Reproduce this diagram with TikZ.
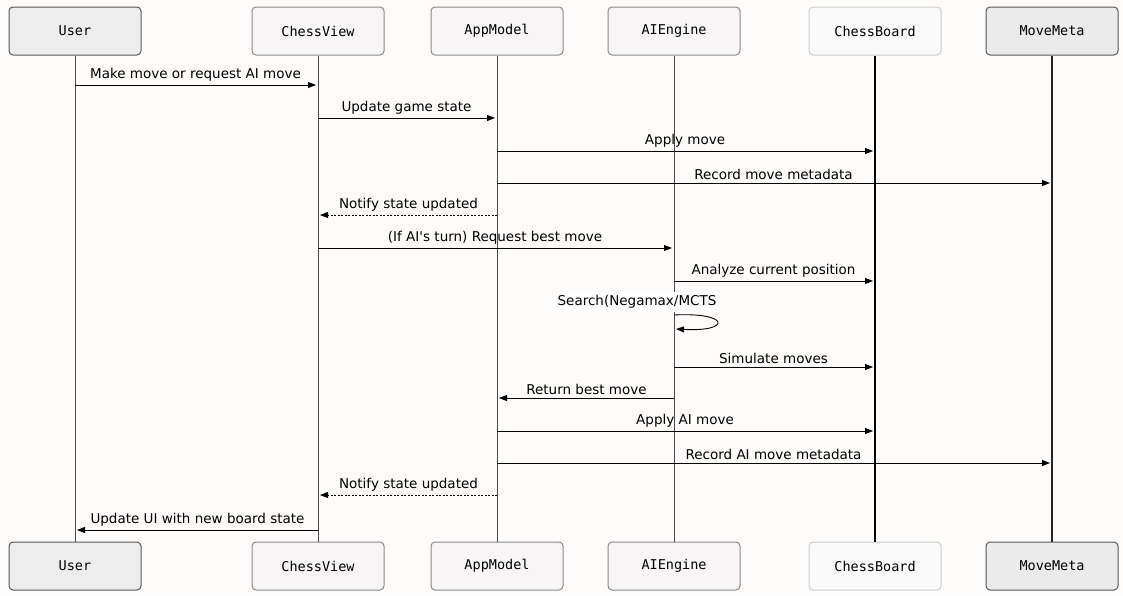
\documentclass[tikz,border=0pt]{standalone}
\usepackage{fontspec}
\setmainfont{DejaVu Sans}
\newfontfamily\actorfont{DejaVu Sans Mono}
\usepackage{xcolor}
\usepackage{tikz}
\usetikzlibrary{arrows.meta, positioning}
\definecolor{bg}{HTML}{FDFCFA}
\definecolor{boxfill}{HTML}{F7F5F5}
\definecolor{boxline}{HTML}{8A8A8A}
\tikzstyle{actor} = [rectangle, rounded corners=4pt, minimum width=132pt, minimum height=48pt, text centered, draw=boxline, fill=boxfill, line width=1pt, font=\actorfont\fontsize{13.5}{15}\selectfont]
\tikzstyle{lifeline} = [draw=black!70, line width=0.8pt]
\tikzstyle{msg} = [line width=0.9pt, -{Triangle[length=8pt,width=6pt]}]
\tikzstyle{reply} = [msg, dash pattern=on 2pt off 1.5pt]
\tikzstyle{lbl} = [above=2pt, midway, font=\fontsize{13.5}{15}\selectfont, inner sep=1pt]

\begin{document}
\begin{tikzpicture}[x=1pt, y=-1pt]
      \fill[bg] (0,0) rectangle (1123,595);
      \useasboundingbox (0,0) rectangle (1123,595);

      % Nodes
      \node (user) [actor, fill=black!7, draw=black!65] at (75,31) {User};
      \node (view) [actor] at (318,31) {ChessView};
      \node (model) [actor] at (497,31) {AppModel};
      \node (ai) [actor] at (674,31) {AIEngine};
      \node (board) [actor, fill=black!2, draw=black!20] at (875,31) {ChessBoard};
      \node (meta) [actor, fill=black!8, draw=black!65] at (1052,31) {MoveMeta};

      \node (userB) [actor, fill=black!7, draw=black!65] at (75,566) {User};
      \node (viewB) [actor] at (318,566) {ChessView};
      \node (modelB) [actor] at (497,566) {AppModel};
      \node (aiB) [actor] at (674,566) {AIEngine};
      \node (boardB) [actor, fill=black!2, draw=black!20] at (875,566) {ChessBoard};
      \node (metaB) [actor, fill=black!8, draw=black!65] at (1052,566) {MoveMeta};

      % Lifelines
      \draw [lifeline] (user) -- (userB);
      \draw [lifeline] (view) -- (viewB);
      \draw [lifeline] (model) -- (modelB);
      \draw [lifeline] (ai) -- (aiB);
      \draw [lifeline, draw=black, line width=1.3pt] (board) -- (boardB);
      \draw [lifeline, draw=black!85, line width=1.3pt] (meta) -- (metaB);

      % Rows
      \coordinate (r1) at (0,85);
      \coordinate (r2) at (0,118);
      \coordinate (r3) at (0,151);
      \coordinate (r4) at (0,183);
      \coordinate (r5) at (0,215);
      \coordinate (r6) at (0,248);
      \coordinate (r7) at (0,281);
      \coordinate (r8a) at (0,315);
      \coordinate (r8b) at (0,329);
      \coordinate (r9) at (0,367);
      \coordinate (r10) at (0,398);
      \coordinate (r11) at (0,431);
      \coordinate (r12) at (0,463);
      \coordinate (r13) at (0,495);
      \coordinate (r14) at (0,530);

      % Arrows
      \draw [msg] (user |- r1) -- node[lbl] {Make move or request AI move} ([xshift=-2pt]view |- r1);
      \draw [msg] (view |- r2) -- node[lbl] {Update game state} ([xshift=-2pt]model |- r2);
      \draw [msg] (model |- r3) -- node[lbl] {Apply move} ([xshift=-2pt]board |- r3);
      \draw [msg] (model |- r4) -- node[lbl] {Record move metadata} ([xshift=-2pt]meta |- r4);
      \draw [reply] (model |- r5) -- node[lbl] {Notify state updated} ([xshift=2pt]view |- r5);
      \draw [msg] (view |- r6) -- node[lbl] {(If AI\textquotesingle s turn) Request best move} ([xshift=-2pt]ai |- r6);
      \draw [msg] (ai |- r7) -- node[lbl] {Analyze current position} ([xshift=-2pt]board |- r7);
      \node (search) [fill=white, inner sep=3pt, font=\fontsize{13.5}{15}\selectfont] at (637,302) {Search(Negamax/MCTS};
      \draw [msg] (ai |- r8a) .. controls +(56,-3) and +(56,3) .. ([xshift=2pt]ai |- r8b);
      \draw [msg] (ai |- r9) -- node[lbl] {Simulate moves} ([xshift=-2pt]board |- r9);
      \draw [msg] (ai |- r10) -- node[lbl] {Return best move} ([xshift=2pt]model |- r10);
      \draw [msg] (model |- r11) -- node[lbl] {Apply AI move} ([xshift=-2pt]board |- r11);
      \draw [msg] (model |- r12) -- node[lbl] {Record AI move metadata} ([xshift=-2pt]meta |- r12);
      \draw [reply] (model |- r13) -- node[lbl] {Notify state updated} ([xshift=2pt]view |- r13);
      \draw [msg] (view |- r14) -- node[lbl] {Update UI with new board state} ([xshift=2pt]user |- r14);

    \end{tikzpicture}
\end{document}
